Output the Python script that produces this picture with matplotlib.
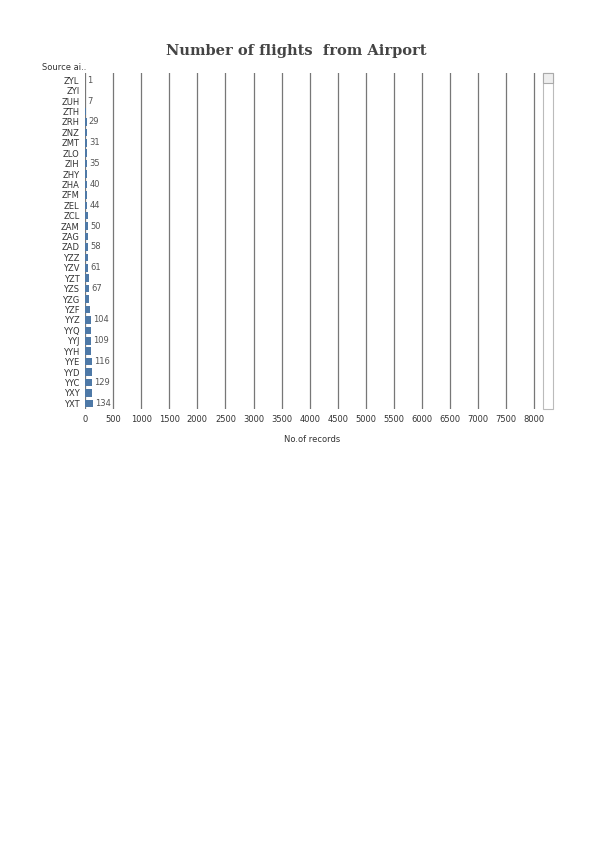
import matplotlib.pyplot as plt
import matplotlib.patches as mpatches

airports = ["ZYL", "ZYI", "ZUH", "ZTH", "ZRH", "ZNZ", "ZMT", "ZLO", "ZIH", "ZHY",
            "ZHA", "ZFM", "ZEL", "ZCL", "ZAM", "ZAG", "ZAD", "YZZ", "YZV", "YZT",
            "YZS", "YZG", "YZF", "YYZ", "YYQ", "YYJ", "YYH", "YYE", "YYD", "YYC",
            "YXY", "YXT"]
records = [1, 3, 7, 15, 29, 30, 31, 33, 35, 38,
           40, 42, 44, 47, 50, 55, 58, 60, 61, 64,
           67, 70, 90, 104, 106, 109, 112, 116, 120, 129,
           131, 134]
shown = [True, False, True, False, True, False, True, False, True, False,
         True, False, True, False, True, False, True, False, True, False,
         True, False, False, True, False, True, False, True, False, True,
         False, True]
xticks = list(range(0, 8001, 500))

fig = plt.figure(figsize=(5.95, 8.42), dpi=100)
ax = fig.add_axes([85/595, 1-409/842, 455/595, 336/842])

ypos = list(range(len(airports)))
ax.barh(ypos, records, height=0.72, color="#4e79a7")
for y, v, s in zip(ypos, records, shown):
    if s:
        ax.text(v + 40, y, str(v), va="center", ha="left", fontsize=6, color="#555555")

ax.set_ylim(len(airports) - 0.45, -0.7)
ax.set_xlim(0, 8100)
ax.set_yticks(ypos)
ax.set_yticklabels(airports, fontsize=6, color="#333333")
ax.set_xticks(xticks)
ax.set_xticklabels([str(t) for t in xticks], fontsize=6, color="#333333")
ax.tick_params(length=0, pad=4)
for sp in ax.spines.values():
    sp.set_visible(False)
ax.grid(axis="x", color="#777777", linewidth=0.9)
ax.set_axisbelow(True)
ax.set_xlabel("No.of records", fontsize=6, color="#333333", labelpad=8)

fig.text(42/595, 1-67/842, "Source ai..", fontsize=6, color="#333333", va="center")
fig.text(296/595, 1-51/842, "Number of flights  from Airport", fontsize=10.5,
         fontweight="bold", family="DejaVu Serif", color="#444444", ha="center", va="center")

# scrollbar on the right
fig.patches.append(mpatches.Rectangle((543/595, 1-409/842), 10/595, 336/842,
                                      transform=fig.transFigure, facecolor="white",
                                      edgecolor="#bbbbbb", linewidth=0.8))
fig.patches.append(mpatches.Rectangle((543/595, 1-83/842), 10/595, 10/842,
                                      transform=fig.transFigure, facecolor="#eeeeee",
                                      edgecolor="#aaaaaa", linewidth=0.8))

fig.savefig("out.png", dpi=100)
